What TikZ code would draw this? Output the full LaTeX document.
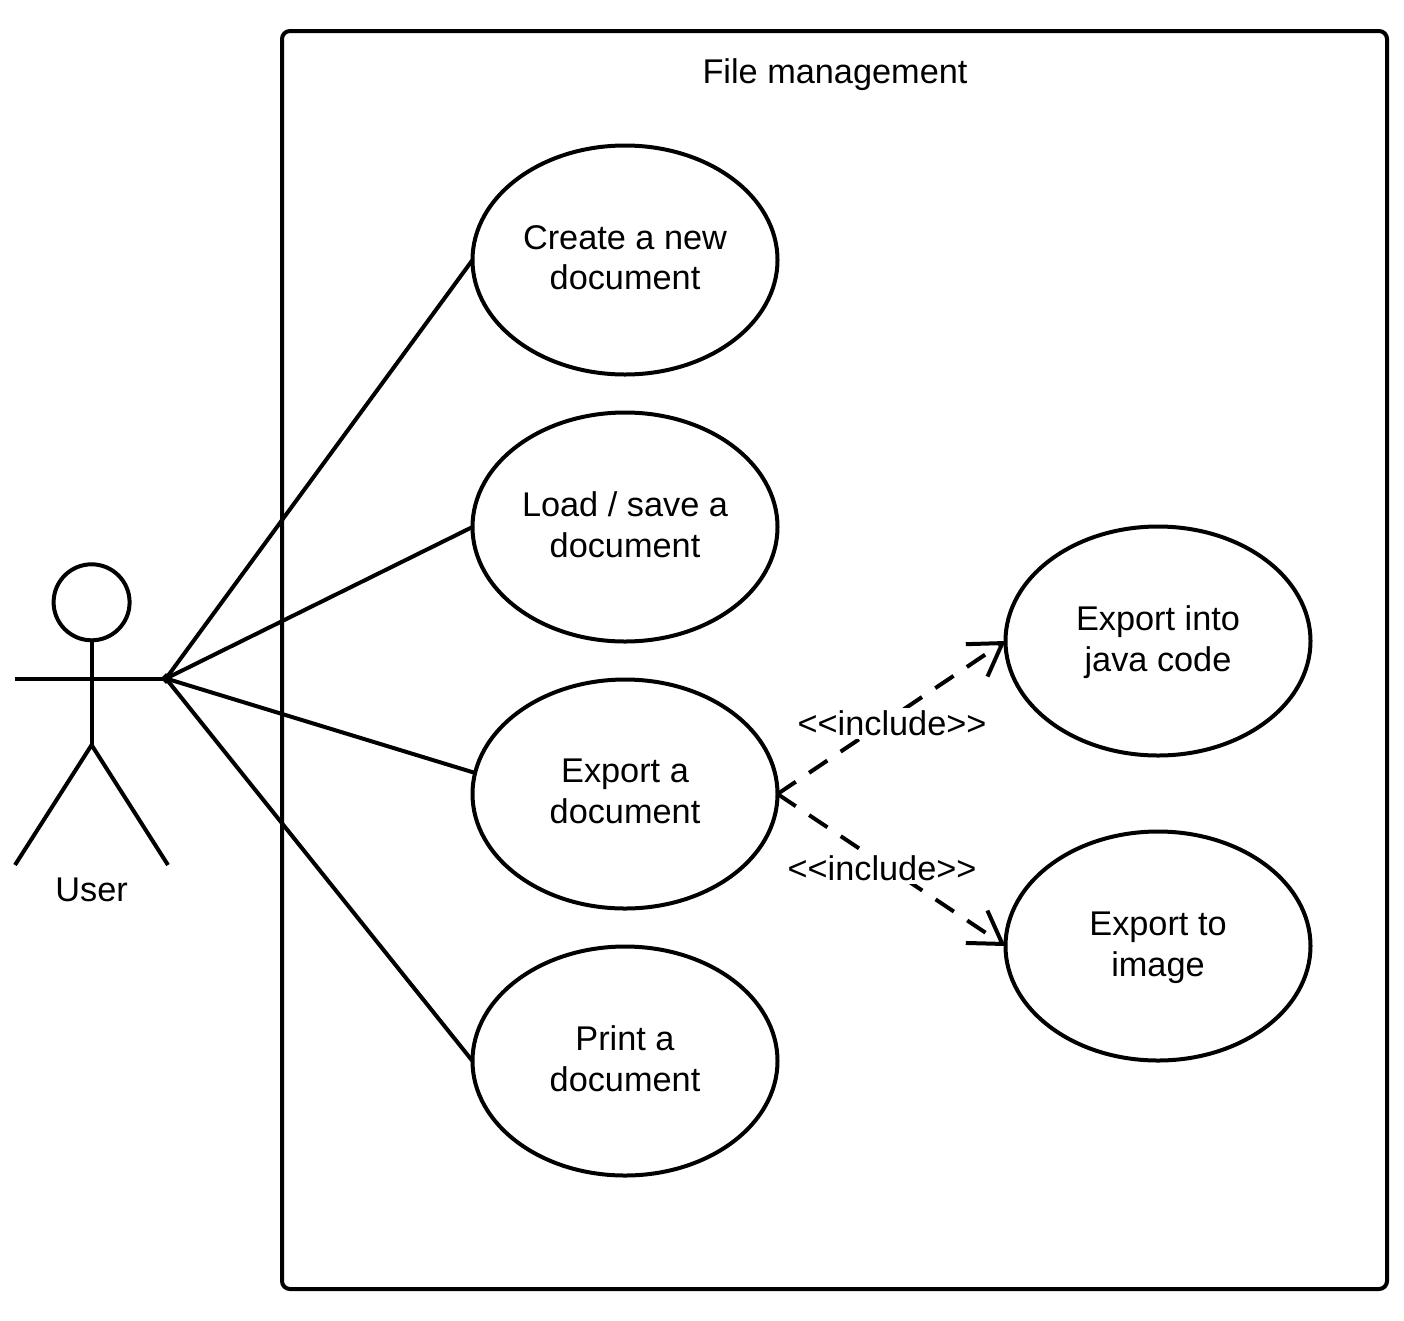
\documentclass[tikz,border=0pt]{standalone}
\usepackage{fontspec}
\setmainfont{Liberation Sans}
\usetikzlibrary{shapes.geometric,arrows.meta}
\tikzset{
  ln/.style={line width=4pt,black},
  usecase/.style={ln,draw,ellipse,fill=white,minimum width=305pt,minimum height=229pt,inner sep=0pt,outer sep=0pt},
  lbl/.style={font=\fontsize{34.3}{40.6}\selectfont,inner sep=0pt,align=center},
  inc/.style={ln,dash pattern=on 22pt off 16pt,-{Straight Barb[length=31pt,width=39pt,line width=4pt]}},
  inclbl/.style={lbl,fill=white,minimum height=31pt},
  assoc/.style={ln}
}
\begin{document}
\begin{tikzpicture}[x=1pt,y=-1pt]
\useasboundingbox (0,0) rectangle (1404,1320);
\fill[white] (0,0) rectangle (1404,1320);
\node[ln,draw,rectangle,rounded corners=8pt,minimum width=1105pt,minimum height=1258pt,inner sep=0pt,outer sep=0pt] (system) at (834.5,660) {};
\node[lbl] (title) at (835,75) {File management};
% actor
\node[ln,draw,circle,minimum size=76pt,inner sep=0pt,outer sep=0pt] (head) at (91.6,602.3) {};
\coordinate (hip) at (91.6,745);
\coordinate (handL) at (15,678.5);
\coordinate (handR) at (166,678.5);
\coordinate (footL) at (15,865);
\coordinate (footR) at (168,865);
\draw[ln] (head.south) -- (hip);
\draw[ln] (handL) -- (handR);
\draw[ln,line join=miter] (footL) -- (hip) -- (footR);
\node[fill=black,diamond,shape aspect=1,minimum size=11pt,inner sep=0pt] (grip) at (handR) {};
\node[lbl] (user) at (91.6,890) {User};
% use cases
\node[usecase] (create) at (625,260) {};
\node[usecase] (load) at (625,527) {};
\node[usecase] (export) at (625,794) {};
\node[usecase] (print) at (625,1061) {};
\node[usecase] (java) at (1158,641) {};
\node[usecase] (image) at (1158,946) {};
\node[lbl] (createT) at (625,257.5) {Create a new\\document};
\node[lbl] (loadT) at (625,524.5) {Load / save a\\document};
\node[lbl] (exportT) at (625,791.5) {Export a\\document};
\node[lbl] (printT) at (625,1058.5) {Print a\\document};
\node[lbl] (javaT) at (1158,642) {Export into\\java code};
\node[lbl] (imageT) at (1158,948) {Export to\\image};
% associations
\draw[assoc] (handR) -- (create.west);
\draw[assoc] (handR) -- (load.west);
\draw[assoc] (handR) -- (export.172.5);
\draw[assoc] (handR) -- (print.west);
% includes
\draw[inc] (export.east) -- (java.west);
\draw[inc] (export.east) -- (image.west);
\node[inclbl] (inca) at (892,723) {<{}<include>{}>};
\node[inclbl] (incb) at (882,868) {<{}<include>{}>};
\end{tikzpicture}
\end{document}
